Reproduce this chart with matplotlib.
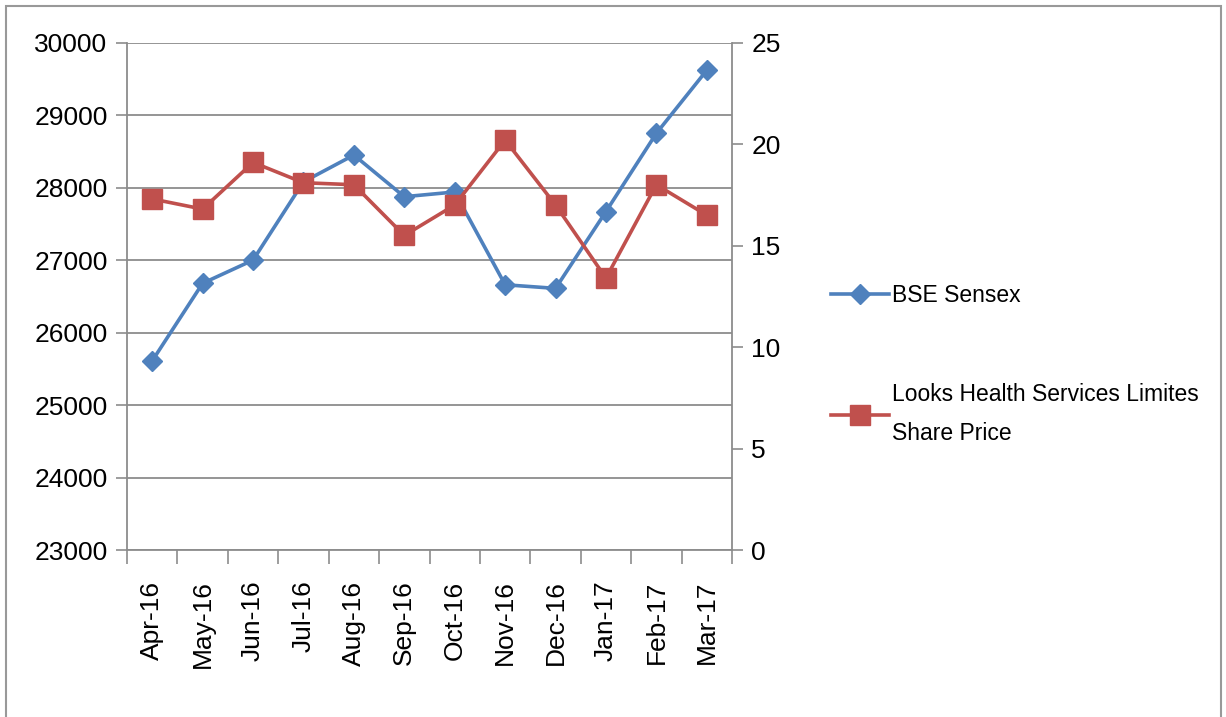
import matplotlib.pyplot as plt
from matplotlib.patches import Rectangle

plt.rcParams['font.family'] = ['Liberation Sans', 'DejaVu Sans']

# data
months = ['Apr-16', 'May-16', 'Jun-16', 'Jul-16', 'Aug-16', 'Sep-16',
          'Oct-16', 'Nov-16', 'Dec-16', 'Jan-17', 'Feb-17', 'Mar-17']
sensex = [25610, 26680, 27000, 28080, 28450, 27875,
          27940, 26660, 26610, 27670, 28750, 29620]
share_price = [17.3, 16.8, 19.1, 18.1, 18.0, 15.5,
               17.0, 20.2, 17.0, 13.4, 18.0, 16.5]

blue = '#4F81BD'
red = '#C0504D'
grey = '#8c8c8c'

fig = plt.figure(figsize=(12.26, 7.17), dpi=100)
# outer frame of the chart area
fig.patches.append(Rectangle((6 / 1226, -0.01), 1215 / 1226, 1 - 6 / 717 + 0.01,
                             transform=fig.transFigure, fill=False,
                             edgecolor='#999999', linewidth=1.5))

ax = fig.add_axes([127 / 1226, 1 - 550 / 717, (732 - 127) / 1226, (550 - 42.7) / 717])
ax2 = ax.twinx()

x = list(range(len(months)))
l1, = ax.plot(x, sensex, color=blue, linewidth=2.6, marker='D', markersize=10,
              label='BSE Sensex', zorder=3)
l2, = ax2.plot(x, share_price, color=red, linewidth=2.6, marker='s', markersize=14,
               label='Looks Health Services Limites\nShare Price', zorder=3)

ax.set_xlim(-0.5, len(months) - 0.5)
ax.set_ylim(23000, 30000)
ax.set_yticks(range(23000, 30001, 1000))
ax2.set_ylim(0, 25)
ax2.set_yticks(range(0, 26, 5))

ax.yaxis.grid(True, color=grey, linewidth=1.3)
ax.set_axisbelow(True)

# category ticks sit at the boundaries, labels in the middle
ax.set_xticks([i - 0.5 for i in range(len(months) + 1)])
ax.set_xticklabels([])
ax.set_xticks(x, minor=True)
ax.set_xticklabels(months, minor=True, rotation=90, fontsize=19)
ax.tick_params(axis='x', which='major', length=10, width=1.2, color=grey, direction='out')
ax.tick_params(axis='x', which='minor', length=0, pad=22)

ax.tick_params(axis='y', length=8, width=1.2, color=grey, labelsize=19, pad=6)
ax2.tick_params(axis='y', length=8, width=1.2, color=grey, labelsize=19, pad=6)

for a in (ax, ax2):
    for s in a.spines.values():
        s.set_color(grey)
        s.set_linewidth(1.3)
    a.spines['top'].set_visible(False)
ax.spines['right'].set_visible(False)
ax2.spines['left'].set_visible(False)
ax2.spines['bottom'].set_visible(False)

leg = fig.legend(handles=[l1, l2], loc='upper left', bbox_to_anchor=(820 / 1226, 1 - 273 / 717),
                 frameon=False, fontsize=16.5, handlelength=2.5, handletextpad=0.15,
                 labelspacing=3.3, borderpad=0)
for t in leg.get_texts():
    t.set_linespacing(1.9)

fig.savefig('out.png', dpi=100)
